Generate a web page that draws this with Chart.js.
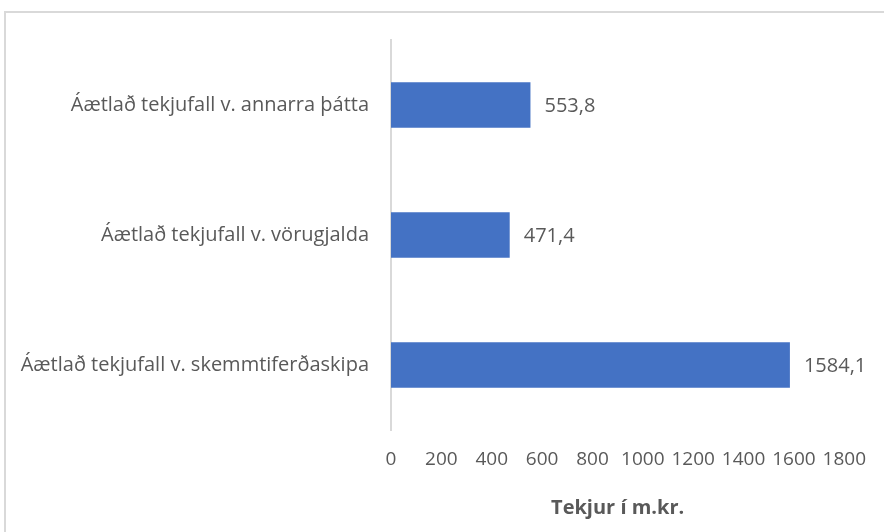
<!DOCTYPE html>
<html>
<head>
<meta charset="utf-8">
<script src="https://cdn.jsdelivr.net/npm/chart.js@4/dist/chart.umd.min.js"></script>
<style>
  html, body { margin: 0; padding: 0; background: #fff; }
  #wrap { position: relative; width: 884px; height: 532px; overflow: hidden; }
  #frame { position: absolute; left: 4px; top: 11px; width: 900px; height: 540px; border: 2px solid #d9d9d9; box-sizing: border-box; }
  canvas { position: absolute; left: 0; top: 0; }
</style>
</head>
<body>
<div id="wrap">
  <div id="frame"></div>
  <canvas id="chart" width="884" height="532"></canvas>
</div>
<script>
// gögn lesin af myndinni
var flokkar = ['Áætlað tekjufall v. annarra þátta', 'Áætlað tekjufall v. vörugjalda', 'Áætlað tekjufall v. skemmtiferðaskipa'];
var tekjur = [553.8, 471.4, 1584.1];
var asMin = 0, asMax = 1800, asSkref = 200;

var textalitur = '#595959';
var letur = "'Open Sans', sans-serif";

// skrifa gildin hægra megin við súlurnar
var gildaMerki = {
  id: 'gildaMerki',
  afterDatasetsDraw: function(chart) {
    var ctx = chart.ctx;
    var meta = chart.getDatasetMeta(0);
    ctx.save();
    ctx.font = '20px ' + letur;
    ctx.fillStyle = textalitur;
    ctx.textAlign = 'left';
    ctx.textBaseline = 'middle';
    meta.data.forEach(function(bar, i) {
      var txt = tekjur[i].toFixed(1).replace('.', ',');
      ctx.fillText(txt, bar.x + 14, bar.y + 1);
    });
    ctx.restore();
  }
};

var ctx = document.getElementById('chart').getContext('2d');
var chart = new Chart(ctx, {
  type: 'bar',
  data: {
    labels: flokkar,
    datasets: [{
      data: tekjur,
      backgroundColor: '#4472c4',
      borderWidth: 0,
      categoryPercentage: 0.7,
      barPercentage: 0.5
    }]
  },
  options: {
    indexAxis: 'y',
    responsive: false,
    animation: false,
    layout: { padding: { top: 40, right: 38, left: 0, bottom: 0 } },
    plugins: {
      legend: { display: false },
      tooltip: { enabled: false }
    },
    scales: {
      x: {
        min: asMin,
        max: asMax,
        grid: { display: false, drawTicks: false },
        border: { display: false },
        ticks: {
          stepSize: asSkref,
          padding: 18,
          maxRotation: 0,
          minRotation: 0,
          autoSkip: false,
          color: textalitur,
          font: { family: letur, size: 19 },
          callback: function(v) { return String(v); }
        },
        title: {
          display: true,
          text: 'Tekjur í m.kr.',
          color: textalitur,
          font: { family: letur, size: 20, weight: 'bold' },
          padding: { top: 20, bottom: 12 }
        },
        afterFit: function(s) { s.height = 102; }
      },
      y: {
        grid: { display: false, drawTicks: false },
        border: { display: true, color: '#d9d9d9', width: 2 },
        ticks: {
          padding: 22,
          color: textalitur,
          font: { family: letur, size: 20 }
        },
        afterFit: function(s) { s.width = 391; }
      }
    }
  },
  plugins: [gildaMerki]
});
</script>
</body>
</html>
